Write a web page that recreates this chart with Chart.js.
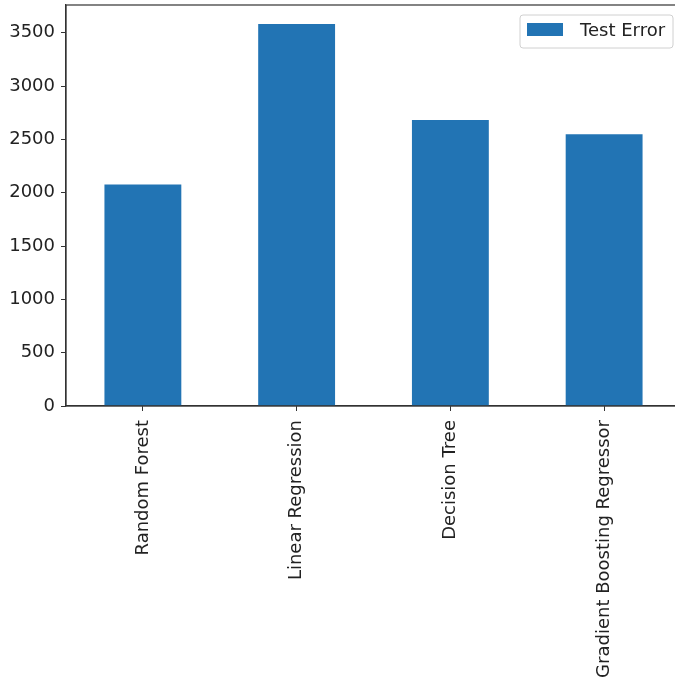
<!DOCTYPE html>
<html>
<head>
<meta charset="utf-8">
<script src="https://cdn.jsdelivr.net/npm/chart.js@4"></script>
<style>
  html, body { margin: 0; padding: 0; background: #fff; overflow: hidden; }
  #wrap { width: 690px; height: 685px; }
</style>
</head>
<body>
<div id="wrap"><canvas id="grafico" width="690" height="685"></canvas></div>
<script>
const modelos = ['Random Forest', 'Linear Regression', 'Decision Tree', 'Gradient Boosting Regressor'];
const testError = [2077, 3581, 2681, 2547];
const yTicks = [0, 500, 1000, 1500, 2000, 2500, 3000, 3500];
const yMax = 3760;

const corBarra = '#2274b4';
const corEixo = '#333333';
const fonte = 'DejaVu Sans';

// moldura do eixo (spines) e legenda dentro da área do gráfico
const molduraLegenda = {
    id: 'molduraLegenda',
    afterDraw(chart) {
        const ctx = chart.ctx;
        const a = chart.chartArea;
        ctx.save();
        ctx.strokeStyle = corEixo;
        ctx.lineWidth = 1.2;
        ctx.strokeRect(a.left, a.top, a.right - a.left, a.bottom - a.top);

        const ds = chart.data.datasets[0];
        const x = a.right - 161, y = a.top + 10, w = 153, h = 33;
        ctx.fillStyle = 'rgba(255,255,255,0.8)';
        ctx.strokeStyle = '#d0d0d0';
        ctx.lineWidth = 1;
        ctx.beginPath();
        ctx.roundRect(x, y, w, h, 3);
        ctx.fill();
        ctx.stroke();
        ctx.fillStyle = ds.backgroundColor;
        ctx.fillRect(x + 7, y + 8, 36, 13);
        ctx.fillStyle = '#222';
        ctx.font = '18px "' + fonte + '"';
        ctx.textBaseline = 'middle';
        ctx.fillText(ds.label, x + 60, y + 16);
        ctx.restore();
    }
};

const ctx = document.getElementById('grafico').getContext('2d');
new Chart(ctx, {
    type: 'bar',
    data: {
        labels: modelos,
        datasets: [{
            label: 'Test Error',
            data: testError,
            backgroundColor: corBarra,
            categoryPercentage: 1,
            barPercentage: 0.5
        }]
    },
    options: {
        responsive: false,
        animation: false,
        layout: { padding: { top: 5, right: 9, left: 0, bottom: 0 } },
        plugins: {
            legend: { display: false },
            tooltip: { enabled: false }
        },
        scales: {
            x: {
                grid: { offset: false, drawOnChartArea: false, drawTicks: true, tickLength: 5, color: corEixo },
                border: { display: true, color: corEixo, width: 1.2 },
                ticks: {
                    minRotation: 90,
                    maxRotation: 90,
                    padding: 9,
                    color: '#222',
                    font: { family: fonte, size: 18 }
                },
                afterFit(scale) { scale.height = 279; }
            },
            y: {
                min: 0,
                max: yMax,
                grid: { drawOnChartArea: false, drawTicks: true, tickLength: 5, color: corEixo },
                border: { display: true, color: corEixo, width: 1.2 },
                afterBuildTicks(scale) {
                    scale.ticks = yTicks.map(v => ({ value: v }));
                },
                ticks: {
                    padding: 6,
                    color: '#222',
                    font: { family: fonte, size: 18 },
                    callback: v => String(v)
                },
                afterFit(scale) {
                    scale.width = 66;
                    scale.paddingTop = 0;
                    scale.paddingBottom = 0;
                }
            }
        }
    },
    plugins: [molduraLegenda]
});
</script>
</body>
</html>
